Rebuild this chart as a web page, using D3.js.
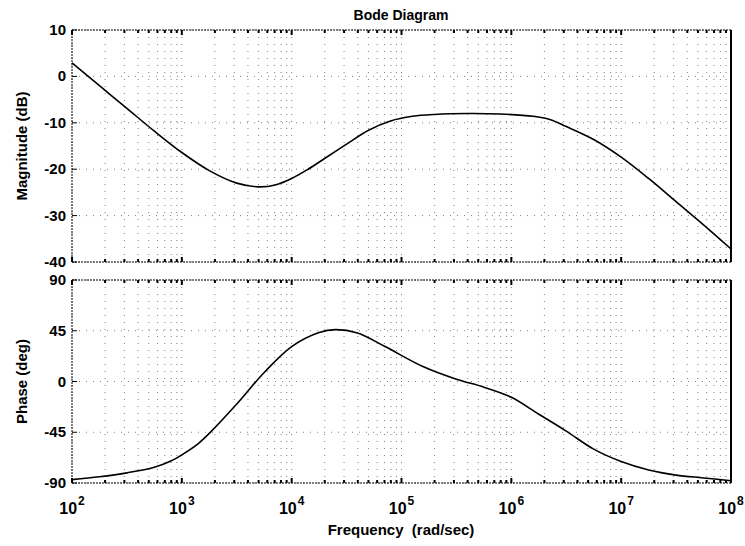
<!DOCTYPE html>
<html>
<head>
<meta charset="utf-8">
<script src="https://cdn.jsdelivr.net/npm/d3@7"></script>
<style>
  body { margin: 0; background: #fff; }
  svg text { font-family: "Liberation Sans", Arial, sans-serif; font-weight: bold; fill: #000; }
</style>
</head>
<body>
<div id="chart"></div>
<script>
// データ (周波数は log10 の値)
const magLogF = [2.0, 2.25, 2.5, 2.75, 3.0, 3.25, 3.5, 3.7, 3.85, 4.0, 4.15, 4.3, 4.5, 4.7, 4.9, 5.1, 5.3, 5.6, 5.9, 6.2, 6.35, 6.5, 6.75, 7.0, 7.25, 7.5, 7.75, 8.0];
const magDb   = [2.9, -2.0, -6.9, -11.8, -16.4, -20.3, -23.0, -23.8, -23.4, -22.0, -20.0, -17.7, -14.6, -11.6, -9.6, -8.6, -8.2, -8.0, -8.1, -8.6, -9.3, -10.8, -13.6, -17.4, -22.0, -27.0, -32.0, -37.2];

const phLogF  = [2.0, 2.25, 2.5, 2.75, 2.9, 3.0, 3.15, 3.25, 3.5, 3.75, 4.0, 4.25, 4.4, 4.6, 4.85, 5.2, 5.5, 5.75, 6.0, 6.25, 6.5, 6.75, 7.0, 7.25, 7.5, 7.75, 8.0];
const phDeg   = [-87, -84.5, -81, -76, -70.5, -65, -55, -46, -20, 8, 31, 43.5, 46, 43, 31, 13, 2, -5, -14, -29, -44, -60, -71, -78.5, -83, -85.5, -88];

const decades  = [2, 3, 4, 5, 6, 7, 8];
const magTicks = [10, 0, -10, -20, -30, -40];
const phTicks  = [90, 45, 0, -45, -90];

const width = 745;
const height = 546;

const svg = d3.select("#chart").append("svg")
  .attr("width", width)
  .attr("height", height);

// スケール
const x = d3.scaleLog().domain([1e2, 1e8]).range([72, 731]);
const yMag = d3.scaleLinear().domain([-40, 10]).range([262, 30]);
const yPh = d3.scaleLinear().domain([-90, 90]).range([483, 280]);

// 小目盛り (2..9 x 10^k)
const minor = [];
decades.slice(0, -1).forEach(k => {
  for (let m = 2; m <= 9; m++) minor.push(m * Math.pow(10, k));
});
const major = decades.map(k => Math.pow(10, k));

function drawPanel(y, ticks, curveLogF, curveVals) {
  const g = svg.append("g");
  const [y0, y1] = y.range(); // bottom, top

  // グリッド
  g.selectAll(".vgrid")
    .data(minor.concat(major))
    .join("line")
    .attr("x1", d => x(d)).attr("x2", d => x(d))
    .attr("y1", y1).attr("y2", y0)
    .attr("stroke", "#000")
    .attr("stroke-opacity", 0.5)
    .attr("stroke-width", 1)
    .attr("stroke-dasharray", "1,6");

  g.selectAll(".hgrid")
    .data(ticks)
    .join("line")
    .attr("x1", x.range()[0]).attr("x2", x.range()[1])
    .attr("y1", d => y(d)).attr("y2", d => y(d))
    .attr("stroke", "#000")
    .attr("stroke-opacity", 0.5)
    .attr("stroke-width", 1)
    .attr("stroke-dasharray", "1,6");

  // 枠
  g.append("line").attr("x1", x.range()[0]).attr("x2", x.range()[1]).attr("y1", y1).attr("y2", y1)
    .attr("stroke", "#000").attr("stroke-dasharray", "2,1");
  g.append("line").attr("x1", x.range()[0]).attr("x2", x.range()[1]).attr("y1", y0).attr("y2", y0)
    .attr("stroke", "#000").attr("stroke-dasharray", "2,1");
  g.append("line").attr("x1", x.range()[0]).attr("x2", x.range()[0]).attr("y1", y1).attr("y2", y0)
    .attr("stroke", "#000").attr("stroke-dasharray", "2,1");
  g.append("line").attr("x1", x.range()[1]).attr("x2", x.range()[1]).attr("y1", y1).attr("y2", y0)
    .attr("stroke", "#000").attr("stroke-width", 2);

  // 目盛り (上下)
  const tickData = minor.map(d => ({ v: d, len: 3 })).concat(major.map(d => ({ v: d, len: 5 })));
  g.selectAll(".tb")
    .data(tickData)
    .join("line")
    .attr("x1", d => x(d.v)).attr("x2", d => x(d.v))
    .attr("y1", y0).attr("y2", d => y0 - d.len)
    .attr("stroke", "#000").attr("stroke-width", 2);
  g.selectAll(".tt")
    .data(tickData)
    .join("line")
    .attr("x1", d => x(d.v)).attr("x2", d => x(d.v))
    .attr("y1", y1).attr("y2", d => y1 + d.len)
    .attr("stroke", "#000").attr("stroke-width", 2);

  // 左の目盛り
  g.selectAll(".tl")
    .data(ticks)
    .join("line")
    .attr("x1", x.range()[0]).attr("x2", x.range()[0] + 5)
    .attr("y1", d => y(d)).attr("y2", d => y(d))
    .attr("stroke", "#000").attr("stroke-width", 1);

  g.selectAll(".ylab")
    .data(ticks)
    .join("text")
    .attr("x", 66)
    .attr("y", d => y(d) + 5)
    .attr("text-anchor", "end")
    .style("font-size", "15px")
    .text(d => d);

  // 曲線
  const pts = curveLogF.map((f, i) => [Math.pow(10, f), curveVals[i]]);
  g.append("path")
    .datum(pts)
    .attr("fill", "none")
    .attr("stroke", "#000")
    .attr("stroke-width", 1.6)
    .attr("d", d3.line().x(d => x(d[0])).y(d => y(d[1])).curve(d3.curveCatmullRom.alpha(0.5)));
}

drawPanel(yMag, magTicks, magLogF, magDb);
drawPanel(yPh, phTicks, phLogF, phDeg);

// x 軸ラベル 10^k
const xl = svg.selectAll(".xlab")
  .data(decades)
  .join("text")
  .attr("x", d => x(Math.pow(10, d)))
  .attr("y", 514)
  .attr("text-anchor", "middle")
  .style("font-size", "16px");
xl.append("tspan").text("10");
xl.append("tspan").attr("dy", -9).attr("dx", 1).style("font-size", "12px").text(d => d);

// タイトル・軸ラベル
svg.append("text")
  .attr("x", 401).attr("y", 20)
  .attr("text-anchor", "middle")
  .style("font-size", "14px")
  .text("Bode Diagram");

svg.append("text")
  .attr("x", 401).attr("y", 535)
  .attr("text-anchor", "middle")
  .style("font-size", "15px")
  .attr("xml:space", "preserve")
  .text("Frequency  (rad/sec)");

svg.append("text")
  .attr("transform", `translate(27, ${(yMag.range()[0] + yMag.range()[1]) / 2}) rotate(-90)`)
  .attr("text-anchor", "middle")
  .style("font-size", "15px")
  .text("Magnitude (dB)");

svg.append("text")
  .attr("transform", `translate(27, ${(yPh.range()[0] + yPh.range()[1]) / 2}) rotate(-90)`)
  .attr("text-anchor", "middle")
  .style("font-size", "15px")
  .text("Phase (deg)");
</script>
</body>
</html>
